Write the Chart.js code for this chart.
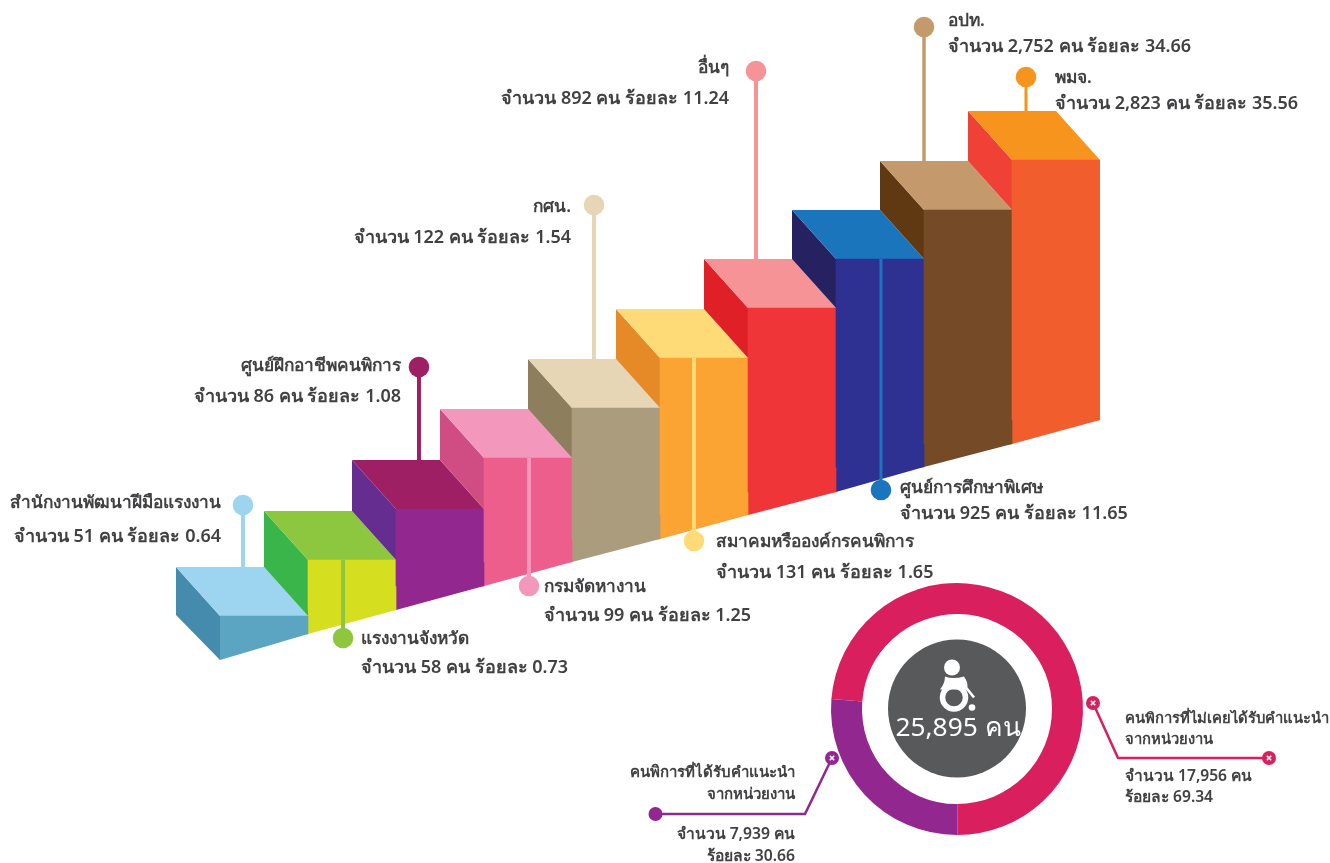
<!DOCTYPE html>
<html lang="th">
<head>
<meta charset="utf-8">
<title>chart</title>
<script src="https://cdn.jsdelivr.net/npm/chart.js@4"></script>
<style>
  html, body { margin: 0; padding: 0; background: #fff; }
  #wrap { position: relative; width: 1330px; height: 863px; overflow: hidden; }
  canvas { position: absolute; left: 0; top: 0; }
</style>
</head>
<body>
<div id="wrap">
  <canvas id="stairs" width="1330" height="863"></canvas>
  <canvas id="ring" width="1330" height="863"></canvas>
</div>
<script>
var categories = ['สำนักงานพัฒนาฝีมือแรงงาน', 'แรงงานจังหวัด', 'ศูนย์ฝึกอาชีพคนพิการ', 'กรมจัดหางาน', 'กศน.', 'สมาคมหรือองค์กรคนพิการ', 'อื่นๆ', 'ศูนย์การศึกษาพิเศษ', 'อปท.', 'พมจ.'];
var counts = ['51', '58', '86', '99', '122', '131', '892', '925', '2,752', '2,823'];
var percents = ['0.64', '0.73', '1.08', '1.25', '1.54', '1.65', '11.24', '11.65', '34.66', '35.56'];

// the stairs are not to scale in the picture, so heights are read off it
var stepTops = [247, 303, 354, 405, 455, 505, 555, 604, 653, 703];
var stepBases = [203, 229, 253, 277, 301, 324, 348, 371, 396, 419, 443];

var ringNames = [['คนพิการที่ไม่เคยได้รับคำแนะนำ', 'จากหน่วยงาน'], ['คนพิการที่ได้รับคำแนะนำ', 'จากหน่วยงาน']];
var ringCounts = ['17,956', '7,939'];
var ringPercents = ['69.34', '30.66'];
var ringShares = [73.7, 26.3]; // arc lengths as drawn
var ringTotal = '25,895 คน';

var frontColors = ['#5BA4C2', '#D5DF20', '#92278F', '#ED5E8D', '#AC9C7E', '#FBA333', '#EF3537', '#2E3192', '#744B26', '#F15D2C'];
var sideColors = ['#458BAD', '#39B54A', '#662D91', '#CF4D83', '#8D7F5E', '#E68A27', '#DF2027', '#262262', '#603913', '#EF4136'];
var topColors = ['#9DD5F0', '#8DC63F', '#9E1F63', '#F497BC', '#E6D6B5', '#FFDB78', '#F69397', '#1B75BC', '#C49A6C', '#F7941D'];

var depthX = 0.5, depthY = 49;
var pinUp = [true, false, true, false, true, false, true, false, true, true];
var pinSlide = [-0.239, -0.102, -0.239, 0.011, -0.25, -0.114, -0.409, 0.011, -0.5, -0.341];
var pinHeads = [358, 225, 496, 277, 658, 322, 792, 373, 836, 786];
var pinWidths = [4, 4, 4, 4, 4, 4, 4, 3, 3.5, 3];

// text anchors: x, y of first line, y of second line
var labelSpots = [
  [221, 503, 537, 'right'], [361, 639, 668, 'left'], [401, 366, 397, 'right'],
  [544, 587, 616, 'left'], [571, 207, 238, 'right'], [716, 542, 573, 'left'],
  [729, 68, 99, 'right'], [900, 488, 514, 'left'], [948, 21, 47, 'left'], [1055, 78, 104, 'left']
];

var fontName = '"Noto Sans", "DejaVu Sans", sans-serif';
var textColor = '#414042';

function poly(ctx, pts, color) {
  ctx.fillStyle = color;
  ctx.beginPath();
  pts.forEach(function (p, i) { i ? ctx.lineTo(p[0], p[1]) : ctx.moveTo(p[0], p[1]); });
  ctx.closePath();
  ctx.fill();
}

var stairFaces = {
  id: 'stairFaces',
  beforeDatasetsDraw: function (chart) {
    var ctx = chart.ctx, xs = chart.scales.x, ys = chart.scales.y;
    ctx.save();
    stepTops.forEach(function (top, i) {
      var xl = xs.getPixelForValue(i - 0.5), xr = xs.getPixelForValue(i + 0.5);
      var xlb = xs.getPixelForValue(i - 0.5 - depthX), xrb = xs.getPixelForValue(i + 0.5 - depthX);
      var yt = ys.getPixelForValue(top), ytb = ys.getPixelForValue(top + depthY);
      var lowFront = i ? stepTops[i - 1] : stepBases[0];
      var lowBack = i ? stepTops[i - 1] + depthY : stepBases[0] + 45;
      poly(ctx, [[xlb, ytb], [xl, yt], [xl, ys.getPixelForValue(lowFront)], [xlb, ys.getPixelForValue(lowBack)]], sideColors[i]);
      // slanted foot of the front face, the bar itself stops at its higher corner
      poly(ctx, [[xl, yt], [xr, yt], [xr, ys.getPixelForValue(stepBases[i + 1])], [xl, ys.getPixelForValue(stepBases[i])]], frontColors[i]);
      poly(ctx, [[xlb, ytb], [xrb, ytb], [xr, yt], [xl, yt]], topColors[i]);
    });
    ctx.restore();
  },
  afterDraw: function (chart) {
    var ctx = chart.ctx;
    ctx.save();
    ctx.fillStyle = textColor;
    ctx.textBaseline = 'middle';
    categories.forEach(function (name, i) {
      var s = labelSpots[i];
      ctx.textAlign = s[3];
      ctx.font = '600 17.3px ' + fontName;
      ctx.fillText(name, s[0], s[1]);
      ctx.font = '600 18px ' + fontName;
      ctx.fillText('จำนวน ' + counts[i] + ' คน ร้อยละ ' + percents[i], s[0], s[2]);
    });
    ctx.restore();
  }
};

var pinSets = categories.map(function (name, i) {
  var foot = pinUp[i] ? stepTops[i] + depthY : stepTops[i];
  var at = i + pinSlide[i];
  return {
    type: 'line',
    data: [{ x: at, y: pinHeads[i] }, { x: at, y: foot }],
    borderColor: topColors[i],
    borderWidth: pinWidths[i],
    pointBackgroundColor: topColors[i],
    pointBorderWidth: 0,
    pointRadius: [10.3, 0],
    tension: 0,
    clip: false,
    order: 1
  };
});

new Chart(document.getElementById('stairs'), {
  data: {
    datasets: [{
      type: 'bar',
      label: 'ขั้นบันได',
      data: stepTops.map(function (top, i) { return { x: i, y: [stepBases[i + 1], top] }; }),
      backgroundColor: frontColors,
      borderWidth: 0,
      barThickness: 88,
      order: 2
    }].concat(pinSets)
  },
  options: {
    responsive: false,
    animation: false,
    events: [],
    layout: { autoPadding: false, padding: { left: 220, right: 230, top: 0, bottom: 0 } },
    plugins: { legend: { display: false }, tooltip: { enabled: false } },
    scales: {
      x: { type: 'linear', display: false, offset: false, min: -0.5, max: 9.5 },
      y: { type: 'linear', display: false, min: 0, max: 863 }
    }
  },
  plugins: [stairFaces]
});

function knob(ctx, x, y, color) {
  ctx.fillStyle = color;
  ctx.beginPath();
  ctx.arc(x, y, 7, 0, Math.PI * 2);
  ctx.fill();
  // little white cross in the middle
  ctx.strokeStyle = '#fff';
  ctx.lineWidth = 1.6;
  ctx.beginPath();
  ctx.moveTo(x - 2.2, y - 2.2);
  ctx.lineTo(x + 2.2, y + 2.2);
  ctx.moveTo(x + 2.2, y - 2.2);
  ctx.lineTo(x - 2.2, y + 2.2);
  ctx.stroke();
}

function leader(ctx, pts, color) {
  ctx.strokeStyle = color;
  ctx.lineWidth = 2.5;
  ctx.beginPath();
  pts.forEach(function (p, i) { i ? ctx.lineTo(p[0], p[1]) : ctx.moveTo(p[0], p[1]); });
  ctx.stroke();
}

function wheelchair(ctx, cx, cy) {
  ctx.save();
  ctx.translate(cx, cy);
  ctx.fillStyle = '#fff';
  ctx.strokeStyle = '#fff';
  ctx.beginPath();
  ctx.arc(-5, -41, 8, 0, Math.PI * 2);
  ctx.fill();
  // seat and back
  ctx.beginPath();
  ctx.moveTo(-12, -32);
  ctx.quadraticCurveTo(-4, -29, 7, -32);
  ctx.quadraticCurveTo(12, -25, 10, -19);
  ctx.lineTo(-17, -19);
  ctx.quadraticCurveTo(-12, -25, -12, -32);
  ctx.fill();
  ctx.lineWidth = 5.5;
  ctx.beginPath();
  ctx.arc(-3, -11, 11.5, 0, Math.PI * 2);
  ctx.stroke();
  ctx.lineWidth = 2.6;
  ctx.beginPath();
  ctx.moveTo(9, -21);
  ctx.lineTo(17, -11);
  ctx.stroke();
  ctx.beginPath();
  ctx.arc(15, -1, 3.3, 0, Math.PI * 2);
  ctx.fill();
  ctx.restore();
}

var ringExtras = {
  id: 'ringExtras',
  afterDraw: function (chart) {
    var ctx = chart.ctx;
    var arc = chart.getDatasetMeta(0).data[0];
    var cx = arc.x, cy = arc.y - 0.5;
    ctx.save();
    ctx.fillStyle = '#58595B';
    ctx.beginPath();
    ctx.arc(cx, cy, 69, 0, Math.PI * 2);
    ctx.fill();
    wheelchair(ctx, cx, cy);
    ctx.fillStyle = '#fff';
    ctx.font = '400 26.3px ' + fontName;
    ctx.textAlign = 'center';
    ctx.textBaseline = 'middle';
    ctx.fillText(ringTotal, cx + 1, cy + 20);

    leader(ctx, [[1093, 703], [1118, 758], [1269, 758]], '#DA1F5E');
    knob(ctx, 1093, 703, '#DA1F5E');
    knob(ctx, 1269, 758, '#DA1F5E');
    leader(ctx, [[832, 758], [805, 814], [656, 814]], '#92278F');
    knob(ctx, 832, 758, '#92278F');
    ctx.fillStyle = '#92278F';
    ctx.beginPath();
    ctx.arc(655.5, 814, 7, 0, Math.PI * 2);
    ctx.fill();

    ctx.fillStyle = textColor;
    ctx.textAlign = 'left';
    ctx.font = '600 14.8px ' + fontName;
    ctx.fillText(ringNames[0][0], 1125, 719);
    ctx.fillText(ringNames[0][1], 1125, 740);
    ctx.font = '600 15.6px ' + fontName;
    ctx.fillText('จำนวน ' + ringCounts[0] + ' คน', 1125, 777);
    ctx.fillText('ร้อยละ ' + ringPercents[0], 1125, 798);
    ctx.textAlign = 'right';
    ctx.font = '600 15px ' + fontName;
    ctx.fillText(ringNames[1][0], 795, 773);
    ctx.fillText(ringNames[1][1], 795, 795);
    ctx.font = '600 15.7px ' + fontName;
    ctx.fillText('จำนวน ' + ringCounts[1] + ' คน', 795, 835);
    ctx.fillText('ร้อยละ ' + ringPercents[1], 795, 857);
    ctx.restore();
  }
};

new Chart(document.getElementById('ring'), {
  type: 'doughnut',
  data: {
    labels: ['ไม่เคยได้รับคำแนะนำ', 'ได้รับคำแนะนำ'],
    datasets: [{
      data: ringShares,
      backgroundColor: ['#DA1F5E', '#92278F'],
      borderWidth: 0
    }]
  },
  options: {
    responsive: false,
    animation: false,
    events: [],
    rotation: 274.5,
    cutout: '75.4%',
    layout: { padding: { left: 831, right: 247, top: 583, bottom: 28 } },
    plugins: { legend: { display: false }, tooltip: { enabled: false } }
  },
  plugins: [ringExtras]
});
</script>
</body>
</html>
